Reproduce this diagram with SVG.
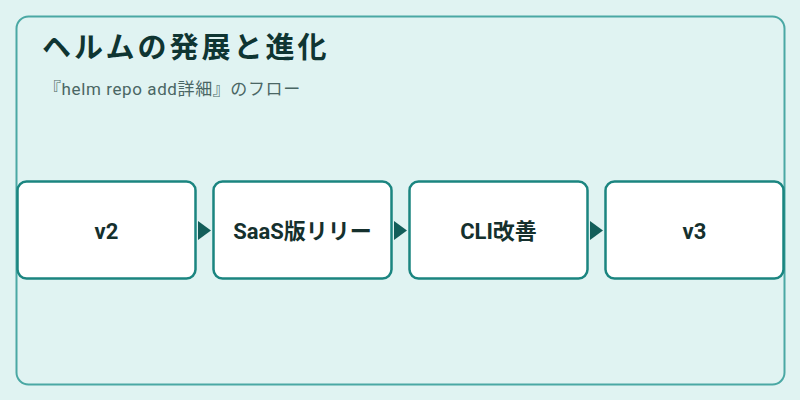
<svg xmlns="http://www.w3.org/2000/svg" width="800" height="400" viewBox="0 0 800 400">
  <defs>
    <style>
      .title { font-family: "Noto Sans CJK JP", "Noto Sans", sans-serif; font-size: 29px; font-weight: 700; fill: #0f3532; letter-spacing: 3px; }
      .sub { font-family: Roboto, "Noto Sans CJK JP", sans-serif; font-size: 17px; fill: #4a6664; letter-spacing: 0.6px; }
      .node rect { fill: #ffffff; stroke: #1b8580; stroke-width: 2.5; }
      .node text { font-family: Roboto, "Noto Sans CJK JP", sans-serif; font-size: 22px; font-weight: 700; fill: #15302d; text-anchor: middle; }
      .arrowhead { fill: #135e5a; }
    </style>
  </defs>
  <rect x="0" y="0" width="800" height="400" fill="#e0f3f2"/>
  <rect x="16.5" y="16.5" width="768" height="368" rx="12" ry="12" fill="#e0f3f2" stroke="#4aa8a4" stroke-width="2"/>
  <text class="title" x="42" y="58">ヘルムの発展と進化</text>
  <text class="sub" x="44" y="95">『helm repo add詳細』のフロー</text>

  <g id="connectors">
    <polygon class="arrowhead" points="198,221 211,230.5 198,240"/>
    <polygon class="arrowhead" points="394,221 407,230.5 394,240"/>
    <polygon class="arrowhead" points="590,221 603,230.5 590,240"/>
  </g>

  <g id="node-v2" class="node">
    <rect x="17.5" y="181.5" width="178" height="97" rx="9" ry="9"/>
    <text x="106.5" y="239">v2</text>
  </g>
  <g id="node-saas" class="node">
    <rect x="213.5" y="181.5" width="178" height="97" rx="9" ry="9"/>
    <text x="302.5" y="239">SaaS版リリー</text>
  </g>
  <g id="node-cli" class="node">
    <rect x="409.5" y="181.5" width="178" height="97" rx="9" ry="9"/>
    <text x="498.5" y="239">CLI改善</text>
  </g>
  <g id="node-v3" class="node">
    <rect x="605.5" y="181.5" width="178" height="97" rx="9" ry="9"/>
    <text x="694.5" y="239">v3</text>
  </g>
</svg>
